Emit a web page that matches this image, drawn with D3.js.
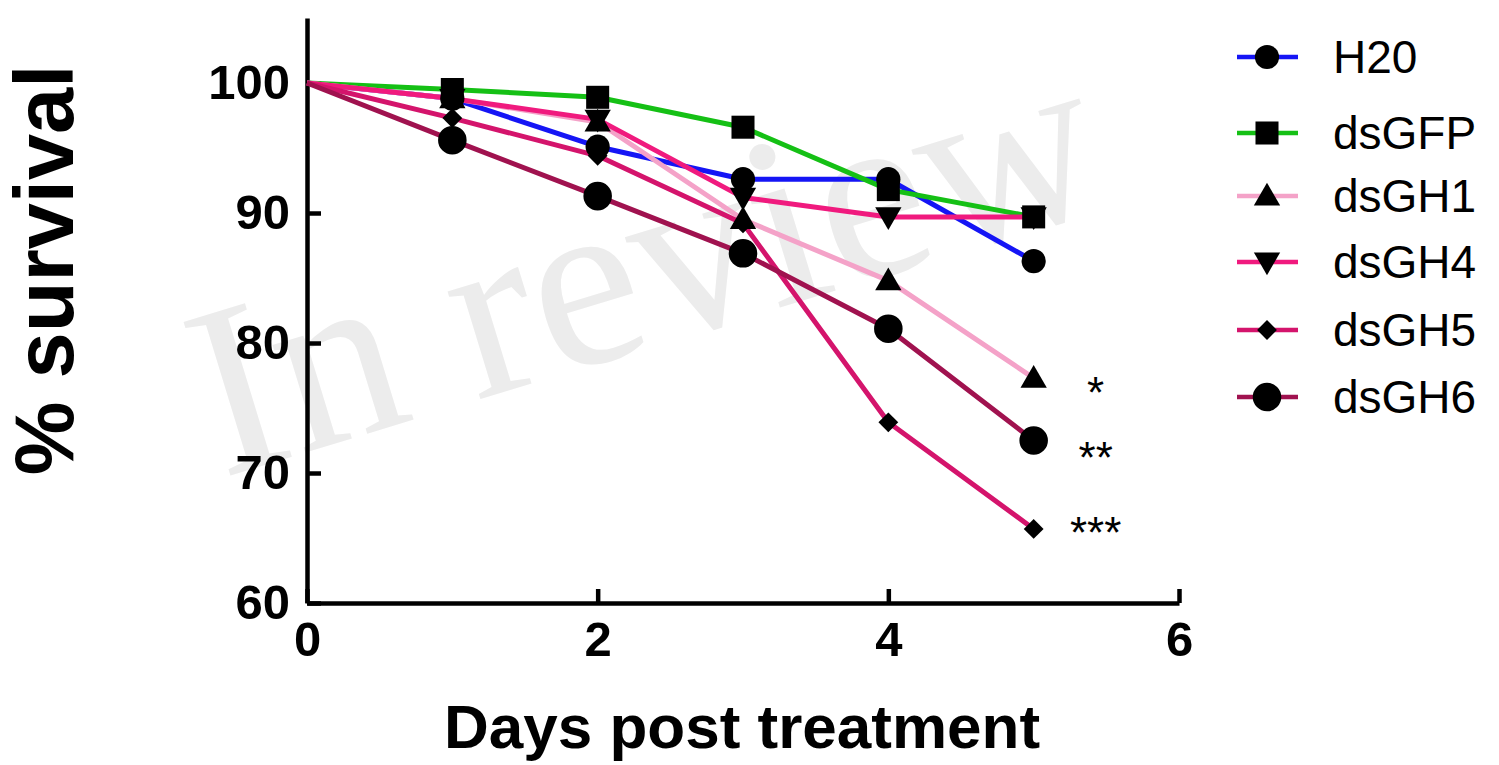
<!DOCTYPE html>
<html>
<head>
<meta charset="utf-8">
<script src="https://cdn.jsdelivr.net/npm/d3@7"></script>
<style>
  body { margin: 0; background: #fff; }
  svg { display: block; }
</style>
</head>
<body>
<script>
// data
const days = [0, 1, 2, 3, 4, 5];
const seriesNames = ["H20", "dsGFP", "dsGH1", "dsGH4", "dsGH5", "dsGH6"];
const h20   = [100, 98.8, 95.1, 92.6, 92.6, 86.3];
const dsGFP = [100, 99.5, 98.9, 96.6, 91.8, 89.7];
const dsGH1 = [100, 98.8, 97.0, 89.5, 84.8, 77.3];
const dsGH4 = [100, 98.8, 97.2, 91.2, 89.7, 89.7];
const dsGH5 = [100, 97.3, 94.4, 89.2, 73.9, 65.7];
const dsGH6 = [100, 95.6, 91.3, 86.9, 81.1, 72.5];
const xTicks = [0, 2, 4, 6];
const yTicks = [60, 70, 80, 90, 100];
const stars = [
  { series: "dsGH1", label: "*" },
  { series: "dsGH6", label: "**" },
  { series: "dsGH5", label: "***" }
];

const values = [h20, dsGFP, dsGH1, dsGH4, dsGH5, dsGH6];
const colors = ["#1515f5", "#15c015", "#f4a2c8", "#f01a7e", "#d4146c", "#a0124f"];
const shapes = ["circle", "square", "up", "down", "diamond", "bigcircle"];

const width = 1499, height = 765;

const svg = d3.select("body").append("svg")
  .attr("width", width)
  .attr("height", height);

const x = d3.scaleLinear().domain([0, 6]).range([307, 1179]);
const y = d3.scaleLinear().domain([60, 105]).range([603, 18]);

// watermark
svg.append("text")
  .attr("transform", "translate(222,478) rotate(-17)")
  .attr("font-family", "Liberation Serif, Times New Roman, serif")
  .attr("font-size", 245)
  .attr("fill", "#ececec")
  .text("In review");

function symbolPath(shape) {
  const s = {
    circle: d3.symbol(d3.symbolCircle, 460),
    bigcircle: d3.symbol(d3.symbolCircle, 640),
    square: d3.symbol(d3.symbolSquare, 530),
    up: d3.symbol(d3.symbolTriangle, 300),
    down: d3.symbol(d3.symbolTriangle, 300),
    diamond: d3.symbol(d3.symbolDiamond2, 250)
  };
  return s[shape]();
}
function symbolTransform(shape, px, py) {
  if (shape === "up") return `translate(${px},${py + 2})`;
  if (shape === "down") return `translate(${px},${py - 2}) rotate(180)`;
  return `translate(${px},${py})`;
}

// axes
const yAxis = d3.axisLeft(y).tickValues(yTicks).tickSizeInner(-14).tickSizeOuter(0).tickPadding(17);
const xAxis = d3.axisBottom(x).tickValues(xTicks).tickFormat(d3.format("d"))
  .tickSizeInner(-14).tickSizeOuter(0).tickPadding(18);

const gy = svg.append("g").attr("transform", `translate(${x(0)},0)`).call(yAxis);
const gx = svg.append("g").attr("transform", `translate(0,${y(60)})`).call(xAxis);

[gx, gy].forEach(g => {
  g.selectAll("path, line").attr("stroke", "#000").attr("stroke-width", 4.5);
  g.selectAll("text")
    .attr("fill", "#000")
    .attr("font-family", "Liberation Sans, Arial, sans-serif")
    .attr("font-weight", "bold")
    .attr("font-size", 49);
});

// lines
const line = d3.line().x((d, i) => x(days[i])).y(d => y(d));

values.forEach((vals, k) => {
  svg.append("path")
    .datum(vals)
    .attr("fill", "none")
    .attr("stroke", colors[k])
    .attr("stroke-width", 5)
    .attr("stroke-linejoin", "round")
    .attr("d", line);
});

// markers (none drawn at day 0 in the original)
values.forEach((vals, k) => {
  svg.append("g").selectAll("path")
    .data(vals.map((v, i) => ({ day: days[i], v })).filter(d => d.day > 0))
    .enter()
    .append("path")
    .attr("d", symbolPath(shapes[k]))
    .attr("transform", d => symbolTransform(shapes[k], x(d.day), y(d.v)))
    .attr("fill", "#000");
});

// significance stars
const starDy = { "*": 30, "**": 32, "***": 19 };
stars.forEach(s => {
  const vals = values[seriesNames.indexOf(s.series)];
  svg.append("text")
    .attr("x", x(5) + 62)
    .attr("y", y(vals[vals.length - 1]) + starDy[s.label])
    .attr("text-anchor", "middle")
    .attr("font-family", "Liberation Sans, Arial, sans-serif")
    .attr("font-size", 44)
    .attr("fill", "#000")
    .text(s.label);
});

// axis titles
svg.append("text")
  .attr("x", 742)
  .attr("y", 748)
  .attr("text-anchor", "middle")
  .attr("font-family", "Liberation Sans, Arial, sans-serif")
  .attr("font-weight", "bold")
  .attr("font-size", 62)
  .text("Days post treatment");

svg.append("text")
  .attr("transform", "translate(73,270) rotate(-90)")
  .attr("text-anchor", "middle")
  .attr("font-family", "Liberation Sans, Arial, sans-serif")
  .attr("font-weight", "bold")
  .attr("font-size", 83)
  .text("% survival");

// legend
const legendY = [57, 133, 196, 262, 330, 397];
const legend = svg.append("g");
seriesNames.forEach((name, k) => {
  const g = legend.append("g").attr("transform", `translate(0,${legendY[k]})`);
  g.append("line")
    .attr("x1", 1237).attr("x2", 1298)
    .attr("stroke", colors[k]).attr("stroke-width", 4.5);
  g.append("path")
    .attr("d", symbolPath(shapes[k]))
    .attr("transform", symbolTransform(shapes[k], 1267, 0))
    .attr("fill", "#000");
  g.append("text")
    .attr("x", 1333)
    .attr("y", 16)
    .attr("font-family", "Liberation Sans, Arial, sans-serif")
    .attr("font-size", 46)
    .attr("fill", "#000")
    .text(name);
});
</script>
</body>
</html>
